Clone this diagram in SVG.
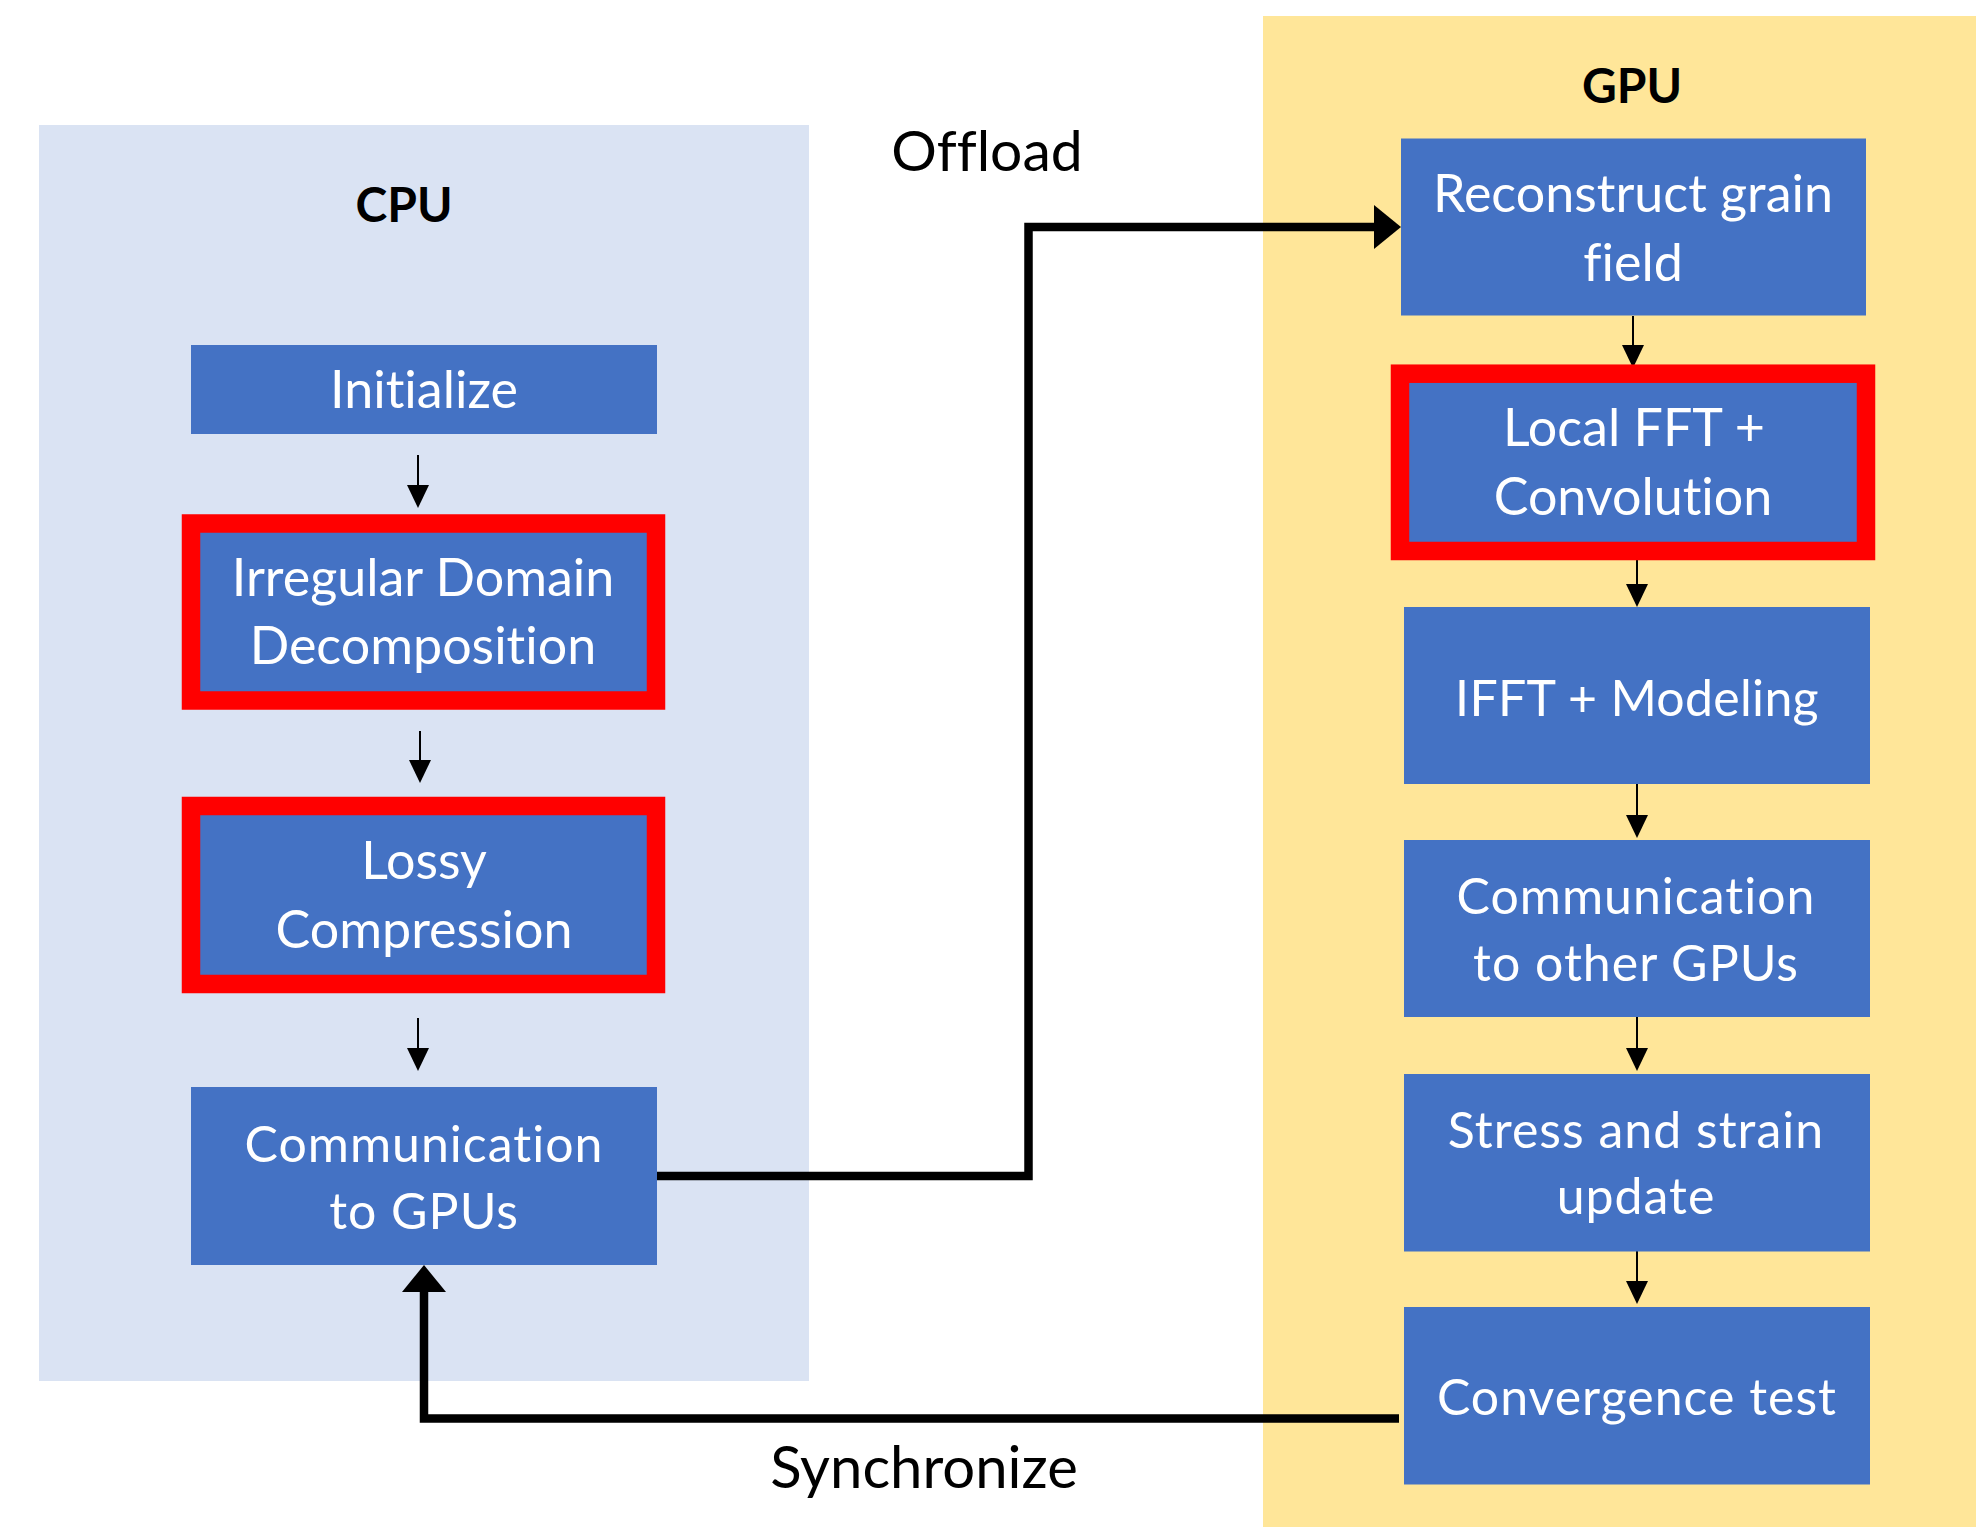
<svg xmlns="http://www.w3.org/2000/svg" width="1976" height="1527" viewBox="0 0 1976 1527">
<defs>
<style>
text{font-variant-ligatures:none;font-feature-settings:"liga" 0,"clig" 0}
.panel-cpu{fill:#DAE3F3}
.panel-gpu{fill:#FFE699}
.box{fill:#4472C4}
.hl{fill:#4472C4;stroke:#FF0000;stroke-width:18.5}
.t{font-family:Lato,"Open Sans",sans-serif;font-size:52px;fill:#FFFFFF;text-anchor:middle}
.w{font-size:50px;letter-spacing:1px}
.w2{font-size:50px;letter-spacing:0.3px}
.title{font-family:Lato,"Open Sans",sans-serif;font-weight:bold;font-size:48px;fill:#000;text-anchor:middle}
.lbl{font-family:Lato,"Open Sans",sans-serif;font-size:57px;fill:#000;text-anchor:middle}
.lbl2{font-size:58px}
.thin{fill:none;stroke:#000;stroke-width:2}
.thick{fill:none;stroke:#000;stroke-width:8.5;stroke-linejoin:miter}
</style>
<marker id="ah" markerUnits="userSpaceOnUse" markerWidth="24" markerHeight="24" refX="0" refY="11" orient="auto" overflow="visible">
<path d="M0,0 L23,11 L0,22 Z" fill="#000"/>
</marker>
<marker id="ahb" markerUnits="userSpaceOnUse" markerWidth="28" markerHeight="44" refX="0" refY="22" orient="auto" overflow="visible">
<path d="M0,0 L27,22 L0,44 Z" fill="#000"/>
</marker>
</defs>
<rect width="1976" height="1527" fill="#FFFFFF"/>
<g id="cpu-panel">
<rect class="panel-cpu" x="39" y="125" width="770" height="1256"/>
<text class="title" x="404" y="222">CPU</text>
</g>
<g id="gpu-panel">
<rect class="panel-gpu" x="1263" y="16" width="713" height="1511"/>
<text class="title" x="1632" y="103">GPU</text>
</g>
<g id="connectors">
<line class="thin" x1="418" y1="455" x2="418" y2="485" marker-end="url(#ah)"/>
<line class="thin" x1="420" y1="731" x2="420" y2="760" marker-end="url(#ah)"/>
<line class="thin" x1="418" y1="1018" x2="418" y2="1048" marker-end="url(#ah)"/>
<line class="thin" x1="1633" y1="316" x2="1633" y2="345" marker-end="url(#ah)"/>
<line class="thin" x1="1637" y1="560" x2="1637" y2="584" marker-end="url(#ah)"/>
<line class="thin" x1="1637" y1="784" x2="1637" y2="815" marker-end="url(#ah)"/>
<line class="thin" x1="1637" y1="1017" x2="1637" y2="1048" marker-end="url(#ah)"/>
<line class="thin" x1="1637" y1="1251" x2="1637" y2="1281" marker-end="url(#ah)"/>
<polyline class="thick" points="657,1176 1028.5,1176 1028.5,227 1374,227" marker-end="url(#ahb)"/>
<polyline class="thick" points="1399,1418.5 424,1418.5 424,1292" marker-end="url(#ahb)"/>
<text class="lbl" x="987" y="171">Offload</text>
<text class="lbl lbl2" x="924" y="1488">Synchronize</text>
</g>
<g id="initialize">
<rect class="box" x="191" y="345" width="466" height="89"/>
<text class="t" x="424" y="408">Initialize</text>
</g>
<g id="irregular-domain-decomposition">
<rect class="hl" x="191" y="523.5" width="465" height="177"/>
<text class="t" x="423" y="596">Irregular Domain</text>
<text class="t" x="423" y="663.5">Decomposition</text>
</g>
<g id="lossy-compression">
<rect class="hl" x="191" y="806" width="465" height="178"/>
<text class="t" x="424" y="879">Lossy</text>
<text class="t" x="424" y="948">Compression</text>
</g>
<g id="communication-to-gpus">
<rect class="box" x="191" y="1087" width="466" height="178"/>
<text class="t w" x="424" y="1161.5">Communication</text>
<text class="t w" x="424" y="1228.5">to GPUs</text>
</g>
<g id="reconstruct-grain-field">
<rect class="box" x="1401" y="138.5" width="465" height="177"/>
<text class="t" x="1633" y="211.5">Reconstruct grain</text>
<text class="t" x="1633" y="280.5">field</text>
</g>
<g id="local-fft-convolution">
<rect class="hl" x="1400" y="373.7" width="466" height="177.3"/>
<text class="t" x="1634" y="446">Local FFT +</text>
<text class="t" x="1633" y="514.5">Convolution</text>
</g>
<g id="ifft-modeling">
<rect class="box" x="1404" y="607" width="466" height="177"/>
<text class="t w2" x="1637" y="716">IFFT + Modeling</text>
</g>
<g id="communication-to-other-gpus">
<rect class="box" x="1404" y="840" width="466" height="177"/>
<text class="t w" x="1636" y="914">Communication</text>
<text class="t w" x="1636" y="981">to other GPUs</text>
</g>
<g id="stress-strain-update">
<rect class="box" x="1404" y="1074" width="466" height="177.5"/>
<text class="t w" x="1636" y="1147.5">Stress and strain</text>
<text class="t w" x="1636" y="1214">update</text>
</g>
<g id="convergence-test">
<rect class="box" x="1404" y="1307" width="466" height="177.5"/>
<text class="t w" x="1637" y="1415">Convergence test</text>
</g>
</svg>
